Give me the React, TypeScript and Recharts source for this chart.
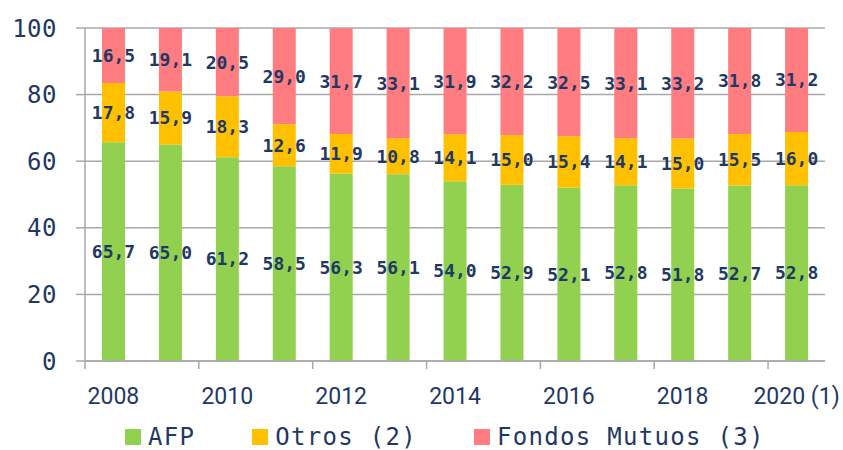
import React from "react";
import { BarChart, Bar, XAxis, YAxis, CartesianGrid, Legend, LabelList } from "recharts";

const categories = ["2008", "2009", "2010", "2011", "2012", "2013", "2014", "2015", "2016", "2017", "2018", "2019", "2020 (1)"];
const afp = [65.7, 65.0, 61.2, 58.5, 56.3, 56.1, 54.0, 52.9, 52.1, 52.8, 51.8, 52.7, 52.8];
const otros = [17.8, 15.9, 18.3, 12.6, 11.9, 10.8, 14.1, 15.0, 15.4, 14.1, 15.0, 15.5, 16.0];
const fondos = [16.5, 19.1, 20.5, 29.0, 31.7, 33.1, 31.9, 32.2, 32.5, 33.1, 33.2, 31.8, 31.2];
const yTicks = [0, 20, 40, 60, 80, 100];

const seriesNames = ["AFP", "Otros (2)", "Fondos Mutuos (3)"];
const seriesKeys = ["afp", "otros", "fondos"];
const seriesColors = ["#92D050", "#FFC000", "#FF7C80"];

const data = categories.map((c, i) => ({ year: c, afp: afp[i], otros: otros[i], fondos: fondos[i] }));

const NAVY = "#1F3864";
const GRID = "#A8A8A8";
const MONO = "'DejaVu Sans Mono', monospace";

const W = 843;
const H = 450;
const M = { top: 28, right: 18, left: 0, bottom: 0 };
const Y_W = 85;
const BAND = (W - M.right - Y_W) / categories.length;

const fmt = (v: any) => Number(v).toFixed(1).replace(".", ",");

const XTick = (props: any) => {
  const { x, y, payload } = props;
  return (
    <g>
      <line x1={x - BAND / 2} x2={x - BAND / 2} y1={y} y2={y + 8} stroke={GRID} strokeWidth={1.5} />
      <text x={x} y={y + 43} textAnchor="middle" fill={NAVY} fontFamily="Roboto, sans-serif" fontSize={23}>
        {payload.value}
      </text>
    </g>
  );
};

const YTick = (props: any) => {
  const { x, y, payload } = props;
  return (
    <text x={x} y={y} dy="0.36em" textAnchor="end" fill={NAVY} fontFamily={MONO} fontSize={24} letterSpacing={0.5}>
      {payload.value}
    </text>
  );
};

const LegendContent = () => (
  <div style={{ display: "flex", alignItems: "center", paddingLeft: 125 }}>
    {seriesNames.map((n, i) => (
      <div key={n} style={{ display: "flex", alignItems: "center", marginRight: i < seriesNames.length - 1 ? 57 : 0 }}>
        <div style={{ width: 16, height: 16, background: seriesColors[i], marginRight: 7, flex: "none" }} />
        <span style={{ fontFamily: MONO, fontSize: 24, color: NAVY, letterSpacing: 1.3, lineHeight: "30px", whiteSpace: "nowrap" }}>{n}</span>
      </div>
    ))}
  </div>
);

export default function App() {
  return (
    <div style={{ position: "absolute", left: 0, top: 0, background: "#fff" }}>
      <BarChart width={W} height={H} data={data} margin={M}>
        <CartesianGrid vertical={false} stroke={GRID} strokeWidth={1.5} />
        <XAxis
          dataKey="year"
          interval={1}
          height={53}
          tickSize={0}
          tickMargin={0}
          tickLine={false}
          axisLine={{ stroke: GRID, strokeWidth: 1.5 }}
          tick={<XTick />}
        />
        <YAxis
          domain={[0, 100]}
          ticks={yTicks}
          width={Y_W}
          allowDataOverflow
          tickSize={9}
          tickMargin={19}
          tickLine={{ stroke: GRID, strokeWidth: 1.5 }}
          axisLine={{ stroke: GRID, strokeWidth: 1.5 }}
          tick={<YTick />}
        />
        <Legend verticalAlign="bottom" height={36} wrapperStyle={{ left: 0, top: 422, width: W }} content={<LegendContent />} />
        {seriesKeys.map((k, i) => (
          <Bar key={k} dataKey={k} name={seriesNames[i]} stackId="a" fill={seriesColors[i]} barSize={23} isAnimationActive={false}>
            <LabelList dataKey={k} position="center" formatter={fmt} fill={NAVY} fontFamily={MONO} fontSize={18} fontWeight="bold" />
          </Bar>
        ))}
      </BarChart>
    </div>
  );
}
